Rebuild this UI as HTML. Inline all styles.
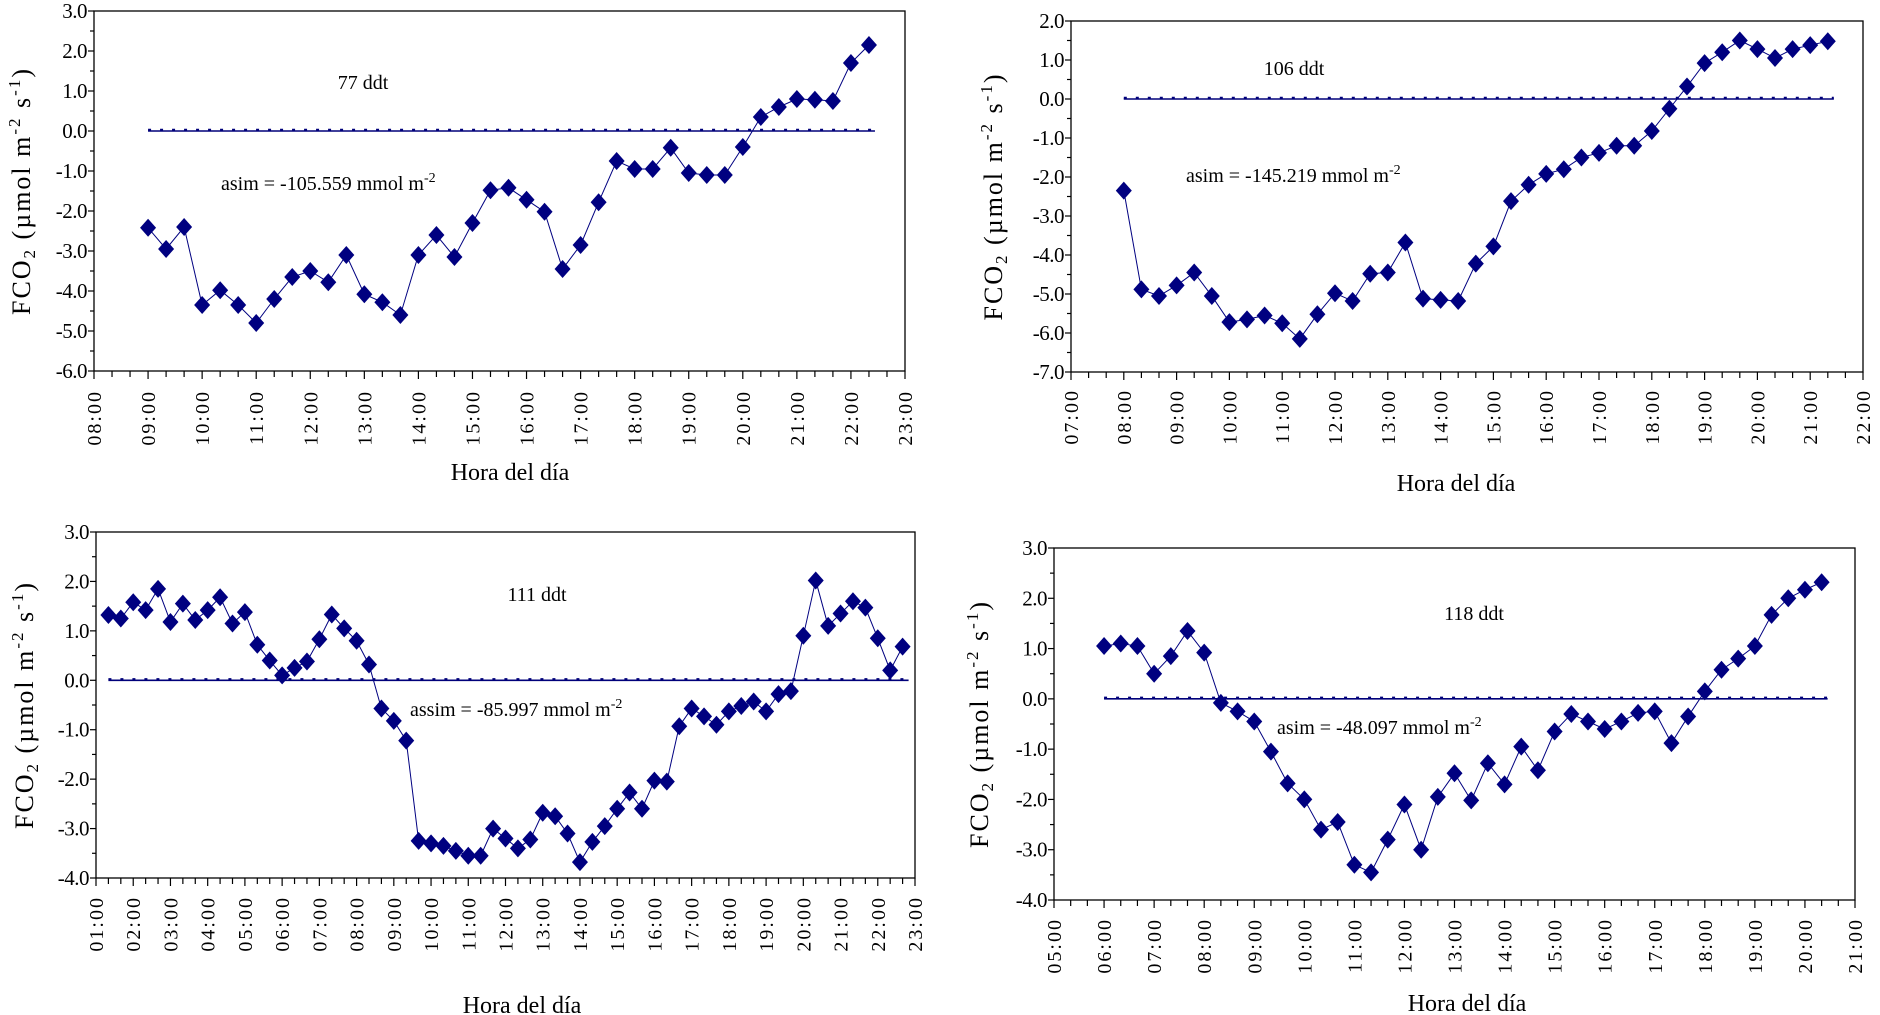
<!DOCTYPE html>
<html><head><meta charset="utf-8"><style>
html,body{margin:0;padding:0;background:#fff;}
svg{display:block;font-family:"Liberation Serif",serif;}
</style></head><body>
<svg id="fig" width="1880" height="1015" viewBox="0 0 1880 1015" xmlns="http://www.w3.org/2000/svg"></svg>
<script>
const c1Values = [-2.42,-2.95,-2.4,-4.35,-3.98,-4.35,-4.8,-4.2,-3.65,-3.5,-3.78,-3.1,-4.08,-4.28,-4.6,-3.1,-2.6,-3.15,-2.3,-1.48,-1.42,-1.72,-2.02,-3.45,-2.85,-1.78,-0.75,-0.95,-0.95,-0.42,-1.05,-1.1,-1.1,-0.4,0.35,0.6,0.8,0.78,0.75,1.7,2.15];
const c2Values = [-2.35,-4.88,-5.05,-4.78,-4.45,-5.05,-5.72,-5.65,-5.55,-5.75,-6.15,-5.52,-4.98,-5.18,-4.48,-4.45,-3.68,-5.12,-5.15,-5.18,-4.22,-3.78,-2.62,-2.2,-1.92,-1.8,-1.5,-1.38,-1.2,-1.2,-0.82,-0.25,0.32,0.92,1.2,1.5,1.28,1.05,1.28,1.38,1.48];
const c3Values = [1.32,1.25,1.58,1.42,1.85,1.18,1.55,1.22,1.42,1.68,1.15,1.38,0.72,0.4,0.1,0.25,0.38,0.83,1.33,1.05,0.8,0.32,-0.57,-0.82,-1.22,-3.25,-3.3,-3.35,-3.45,-3.55,-3.55,-3.0,-3.2,-3.4,-3.22,-2.68,-2.75,-3.1,-3.68,-3.27,-2.95,-2.6,-2.27,-2.6,-2.03,-2.05,-0.93,-0.57,-0.73,-0.9,-0.63,-0.52,-0.43,-0.63,-0.28,-0.22,0.9,2.02,1.1,1.35,1.6,1.47,0.85,0.2,0.68];
const c4Values = [1.05,1.1,1.05,0.5,0.85,1.35,0.92,-0.08,-0.25,-0.45,-1.05,-1.68,-2.0,-2.6,-2.45,-3.3,-3.45,-2.8,-2.1,-3.0,-1.95,-1.48,-2.02,-1.28,-1.7,-0.95,-1.42,-0.65,-0.3,-0.45,-0.6,-0.45,-0.28,-0.25,-0.88,-0.35,0.15,0.58,0.8,1.05,1.67,2.0,2.17,2.32];
const c1Start = 9, c2Start = 8, c3Start = 1 + 20/60, c4Start = 6;
const stepHours = 20/60;
const c1Labels = ["77 ddt", "asim = -105.559 mmol m"];
const c2Labels = ["106 ddt", "asim = -145.219 mmol m"];
const c3Labels = ["111 ddt", "assim = -85.997 mmol m"];
const c4Labels = ["118 ddt", "asim = -48.097 mmol m"];

const NS = "http://www.w3.org/2000/svg";
const svg = document.getElementById('fig');
function mk(tag, attrs, parent){const e=document.createElementNS(NS,tag);for(const k in attrs)e.setAttribute(k,attrs[k]);(parent||svg).appendChild(e);return e;}
function pad(h){return (h<10?'0':'')+h+':00';}

function chart(id,cfg,values,start,labels){
  const g = mk('g',{});
  
  
  const xs = h => cfg.L + (h-cfg.xmin)/(cfg.xmax-cfg.xmin)*(cfg.R-cfg.L);
  const ys = v => cfg.B - (v-cfg.ymin)/(cfg.ymax-cfg.ymin)*(cfg.B-cfg.T);
  const frame = mk('rect',{x:cfg.L,y:cfg.T,width:cfg.R-cfg.L,height:cfg.B-cfg.T,fill:'none',stroke:'#000','stroke-width':1.3},g);
  
  
  for(let v=cfg.ymin; v<=cfg.ymax+1e-9; v+=0.5){
    const y=ys(v), major=Math.abs(v-Math.round(v))<1e-9;
    mk('line',{x1:cfg.L-(major?6:4),x2:cfg.L,y1:y,y2:y,stroke:'#000','stroke-width':1.2},g);
    if(major){
      const t=mk('text',{x:cfg.L-7,y:y+7,'text-anchor':'end','font-size':21,fill:'#000','letter-spacing':'-0.5'},g);
      t.textContent=(Math.round(v)).toFixed(1);
      
      
    }
  }
  for(let h=cfg.xmin; h<=cfg.xmax+1e-9; h+=stepHours){
    const x=xs(h), major=Math.abs(h-Math.round(h))<1e-6;
    mk('line',{x1:x,x2:x,y1:cfg.B,y2:cfg.B+(major?8:6),stroke:'#000','stroke-width':1.2},g);
    if(major){
      const yy=cfg.xl;
      const t=mk('text',{x:x,y:yy,'text-anchor':'end','font-size':20,fill:'#000','letter-spacing':'2',transform:`rotate(-90 ${x} ${yy})`,dy:'7'},g);
      t.textContent=pad(Math.round(h));
      
      
    }
  }
  const x0=xs(start), x1=xs(start+(values.length-1)*stepHours)+6, y0=ys(0);
  const zl=mk('line',{x1:x0,x2:x1,y1:y0,y2:y0,stroke:'#00007a','stroke-width':1.6},g);
  
  
  mk('line',{x1:x0,x2:x1,y1:y0-1,y2:y0-1,stroke:'#00007a','stroke-width':2.4,'stroke-dasharray':'3 9'},g);
  const pts=values.map((v,i)=>[xs(start+i*stepHours),ys(v)]);
  const pl=mk('polyline',{points:pts.map(p=>p.join(',')).join(' '),fill:'none',stroke:'#000080','stroke-width':1},g);
  
  
  pts.forEach(p=>{
    const d=mk('polygon',{points:`${p[0]},${p[1]-9} ${p[0]+8},${p[1]} ${p[0]},${p[1]+9} ${p[0]-8},${p[1]}`,fill:'#000080'},g);
    
    
  });
  const t1=mk('text',{x:cfg.ddt[0],y:cfg.ddt[1]+7,'text-anchor':'middle','font-size':20,fill:'#000'},g);
  t1.textContent=labels[0];
  
  
  const t2=mk('text',{x:cfg.as[0],y:cfg.as[1]+7,'font-size':20,fill:'#000'},g);
  
  
  t2.appendChild(document.createTextNode(labels[1]));
  const sup=mk('tspan',{dy:'-8','font-size':14},t2); sup.textContent='-2';
  const xt=mk('text',{x:cfg.tx,y:cfg.ty+8,'text-anchor':'middle','font-size':24,fill:'#000'},g);
  xt.textContent='Hora del día';
  
  
  const cy=(cfg.T+cfg.B)/2;
  const yt=mk('text',{x:cfg.yx,y:cy,'text-anchor':'middle','font-size':26,fill:'#000','letter-spacing':'2',transform:`rotate(-90 ${cfg.yx} ${cy})`,dy:'9'},g);
  
  
  yt.appendChild(document.createTextNode('FCO'));
  let s=mk('tspan',{dy:'5','font-size':17},yt); s.textContent='2';
  s=mk('tspan',{dy:'-5'},yt); s.textContent=' (µmol m';
  s=mk('tspan',{dy:'-10','font-size':17},yt); s.textContent='-2';
  s=mk('tspan',{dy:'10'},yt); s.textContent=' s';
  s=mk('tspan',{dy:'-10','font-size':17},yt); s.textContent='-1';
  s=mk('tspan',{dy:'10'},yt); s.textContent=')';
}

chart('chart-77-ddt',{L:94,R:905,T:11,B:371,ymin:-6,ymax:3,xmin:8,xmax:23,xl:390,tx:510,ty:472,yx:21,ddt:[363,82],as:[221,183]},c1Values,c1Start,c1Labels);
chart('chart-106-ddt',{L:1071,R:1863,T:21,B:372,ymin:-7,ymax:2,xmin:7,xmax:22,xl:389,tx:1456,ty:483,yx:993,ddt:[1294,68],as:[1186,175]},c2Values,c2Start,c2Labels);
chart('chart-111-ddt',{L:96,R:915,T:532,B:878,ymin:-4,ymax:3,xmin:1,xmax:23,xl:896,tx:522,ty:1005,yx:24,ddt:[537,594],as:[410,709]},c3Values,c3Start,c3Labels);
chart('chart-118-ddt',{L:1054,R:1855,T:548,B:900,ymin:-4,ymax:3,xmin:5,xmax:21,xl:918,tx:1467,ty:1003,yx:979,ddt:[1474,613],as:[1277,727]},c4Values,c4Start,c4Labels);
</script>
</body></html>
